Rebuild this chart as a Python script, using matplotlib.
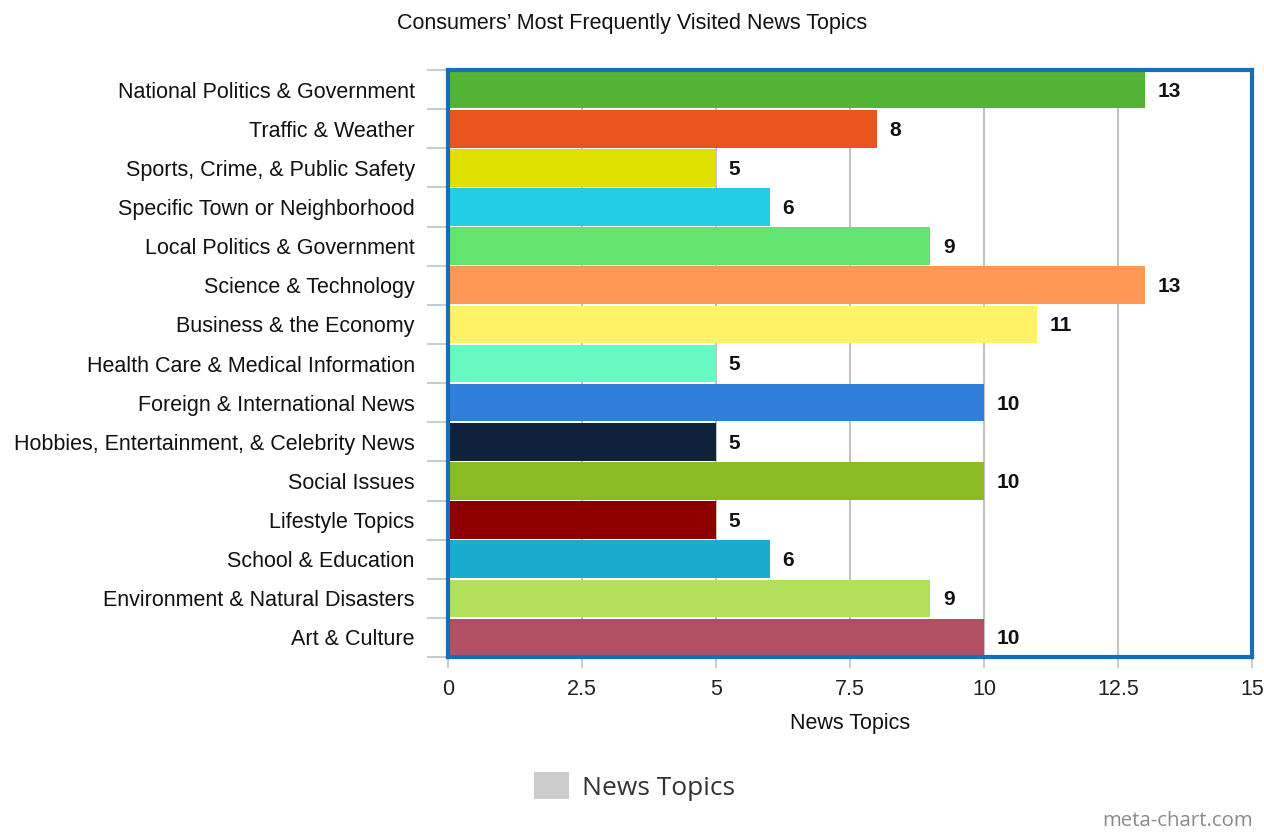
import matplotlib.pyplot as plt
import numpy as np
from matplotlib.patches import Patch

topics = [
    "National Politics & Government",
    "Traffic & Weather",
    "Sports, Crime, & Public Safety",
    "Specific Town or Neighborhood",
    "Local Politics & Government",
    "Science & Technology",
    "Business & the Economy",
    "Health Care & Medical Information",
    "Foreign & International News",
    "Hobbies, Entertainment, & Celebrity News",
    "Social Issues",
    "Lifestyle Topics",
    "School & Education",
    "Environment & Natural Disasters",
    "Art & Culture",
]
counts = [13, 8, 5, 6, 9, 13, 11, 5, 10, 5, 10, 5, 6, 9, 10]
bar_colors = [
    "#52b335", "#e8561e", "#dfe000", "#22cde6", "#62e46f",
    "#ff9757", "#fff266", "#66f9c1", "#2f7fdb", "#10223b",
    "#8bbb22", "#8e0000", "#1aaccf", "#b3df5b", "#b24f62",
]
x_ticks = [0, 2.5, 5, 7.5, 10, 12.5, 15]
x_tick_labels = ["0", "2.5", "5", "7.5", "10", "12.5", "15"]

plt.rcParams["font.family"] = ["Liberation Sans", "DejaVu Sans"]

fig = plt.figure(figsize=(12.64, 8.34), dpi=100)
ax = fig.add_axes([0.3544, 0.2122, 0.636, 0.7038])

y = np.arange(len(topics))
ax.barh(y, counts, height=0.96, color=bar_colors, zorder=2)

# value labels just past the end of each bar
for yi, v in zip(y, counts):
    ax.annotate(str(v), (v, yi), xytext=(9, -1), textcoords="offset points",
                ha="left", va="center", fontsize=15, fontweight="bold",
                color="#111111")

ax.set_xlim(0, 15)
ax.set_ylim(len(topics) - 0.5, -0.5)
ax.set_xticks(x_ticks)
ax.set_xticklabels(x_tick_labels, fontsize=15.5, color="#222222")
ax.set_yticks(y)
ax.set_yticklabels(topics, fontsize=15.5, color="#111111")
ax.set_yticks(np.arange(len(topics) + 1) - 0.5, minor=True)

ax.tick_params(axis="y", which="major", length=0, pad=24)
ax.tick_params(axis="y", which="minor", length=15, width=1.2, color="#b8c4d0")
ax.tick_params(axis="x", length=8, width=1.2, color="#b8c4d0", pad=8)

ax.xaxis.grid(True, color="#c2c2c2", linewidth=1.5, zorder=0)
ax.set_axisbelow(True)

for side in ["top", "bottom", "left", "right"]:
    ax.spines[side].set_color("#1a6db5")
    ax.spines[side].set_linewidth(3)
    ax.spines[side].set_zorder(5)

ax.set_xlabel("News Topics", fontsize=15.5, color="#111111", labelpad=9)
fig.text(0.5, 0.972, "Consumers\u2019 Most Frequently Visited News Topics",
         ha="center", va="center", fontsize=15.5, color="#111111")

handle = Patch(facecolor="#cccccc", edgecolor="none", label="News Topics")
fig.legend(handles=[handle], loc="center", bbox_to_anchor=(0.502, 0.057),
           frameon=False, handlelength=1.3, handleheight=1.2, handletextpad=0.5,
           labelcolor="#333333", prop={"family": ["Open Sans", "DejaVu Sans"], "size": 19})

fig.text(0.991, 0.003, "meta-chart.com", ha="right", va="bottom",
         fontsize=14.7, color="#8a8a8a", family=["Open Sans", "DejaVu Sans"])

fig.savefig("out.png", dpi=100, facecolor="white")
